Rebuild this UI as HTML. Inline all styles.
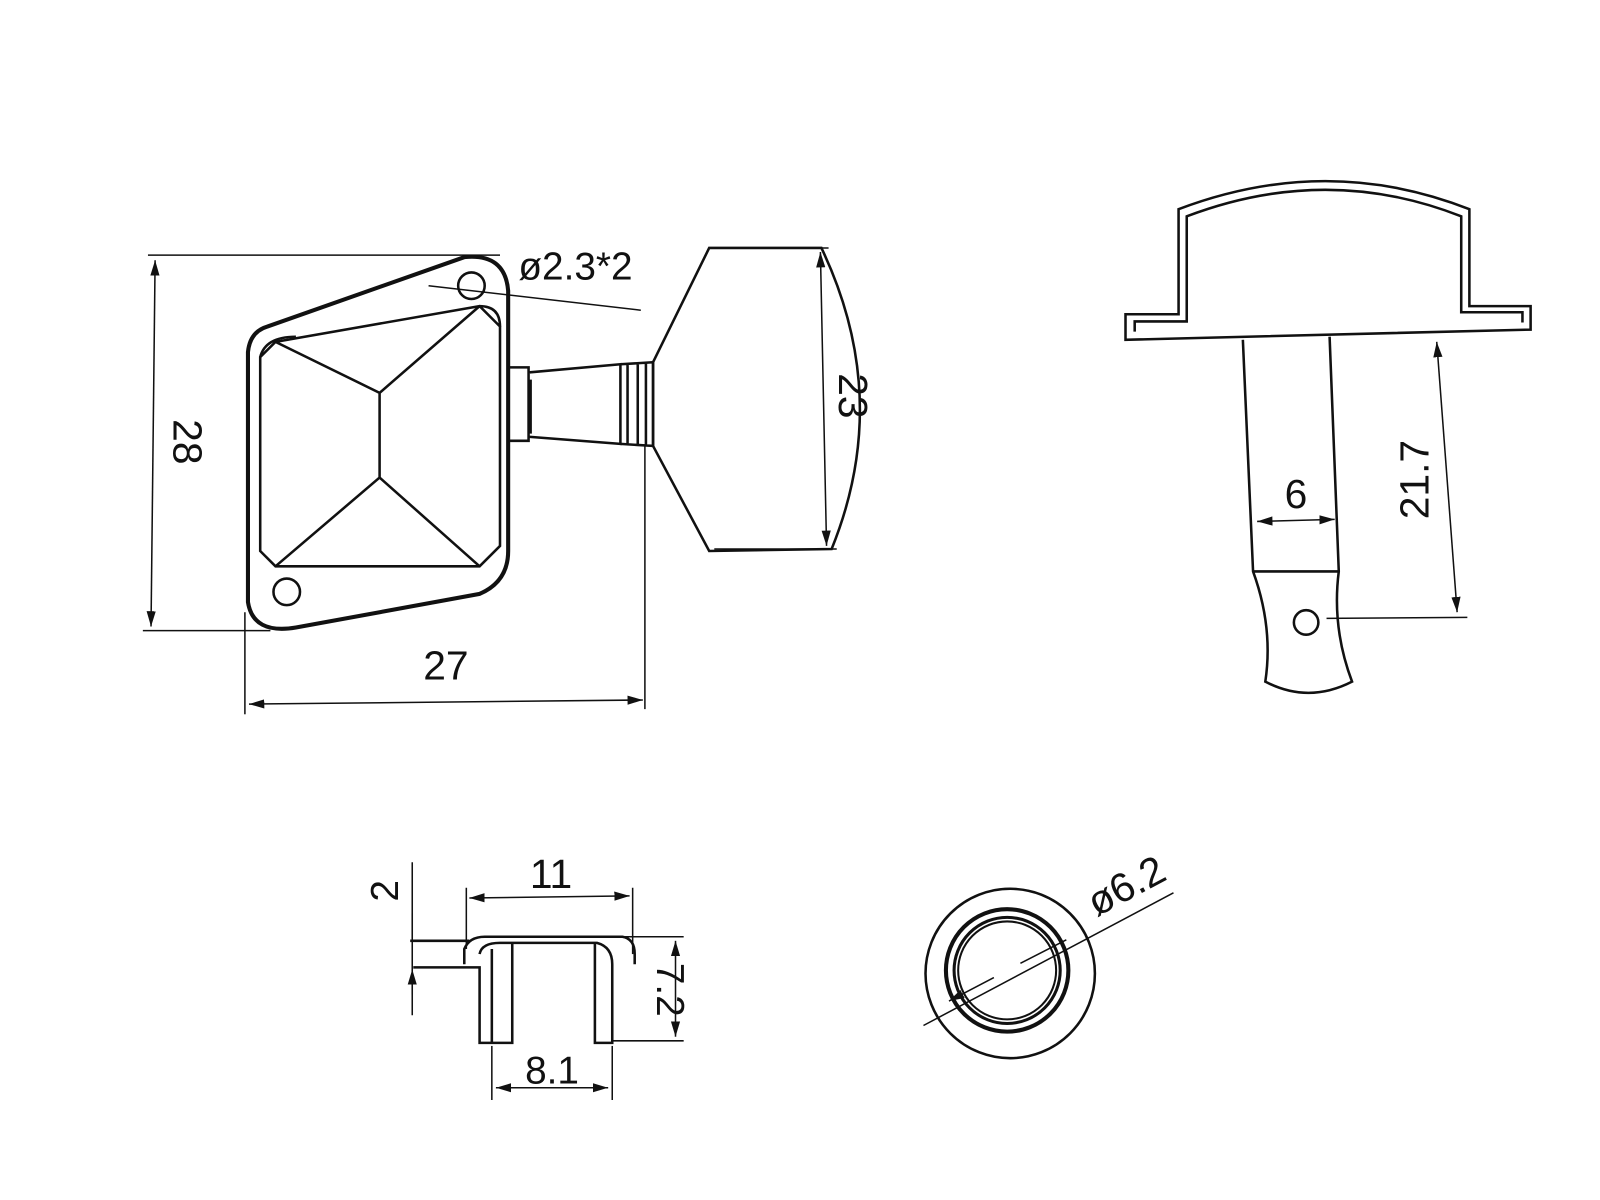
<!DOCTYPE html>
<html><head><meta charset="utf-8"><style>html,body{margin:0;padding:0;background:#fff}svg{display:block}</style></head><body>
<svg width="1600" height="1200" viewBox="0 0 1568 1176" xmlns="http://www.w3.org/2000/svg" font-family="Liberation Sans, sans-serif" fill="none" stroke="#111" stroke-width="2.5">
<defs><marker id="a" viewBox="0 0 10 10" refX="10" refY="5" markerWidth="10" markerHeight="10" orient="auto-start-reverse"><path d="M0,2 L10,5 L0,8" fill="#111" stroke="none"/></marker></defs>
<path d="M262,320 L455,252 Q495,248 498,285 L498,540 Q498,570 470,582 L290,615 Q248,622 243,590 L243,345 Q245,325 262,320 Z" stroke-width="4"/>
<path d="M270,335 L470,300 L490,320 L490,535 L470,555 L270,555 L255,540 L255,350 Z"/>
<path d="M270,335 L372,385 L470,300 M372,385 L372,468 M270,555 L372,468 L470,555"/>
<path d="M255,350 Q260,330 290,330 M470,300 Q490,300 490,320"/>
<circle cx="462" cy="280" r="13"/><circle cx="281" cy="580" r="13"/>
<path d="M498,360 L518,360 L518,432 L498,432 M518,365 L608,357 L608,435 L518,428 M520,372 L520,425"/>
<path d="M608,357 L640,355 L640,437 L608,435 M615,357 L615,435 M625,356 L625,436 M633,356 L633,436"/>
<path d="M640,355 L695,243 L805,243 Q875,390 815,538 L695,540 L640,437 Z"/>
<line x1="145" y1="250" x2="490" y2="250" stroke-width="1.5"/>
<line x1="140" y1="618" x2="265" y2="618" stroke-width="1.5"/>
<line x1="152" y1="255" x2="148" y2="614" stroke-width="1.5" marker-start="url(#a)" marker-end="url(#a)"/>
<text x="170" y="433" font-size="40" fill="#111" stroke="none" transform="rotate(90 170 433)" text-anchor="middle">28</text>
<line x1="240" y1="600" x2="240" y2="700" stroke-width="1.5"/>
<line x1="632" y1="437" x2="632" y2="695" stroke-width="1.5"/>
<line x1="244" y1="690" x2="630" y2="686" stroke-width="1.5" marker-start="url(#a)" marker-end="url(#a)"/>
<text x="437" y="666" font-size="40" fill="#111" stroke="none" text-anchor="middle">27</text>
<line x1="420" y1="280" x2="628" y2="304" stroke-width="1.5"/>
<text x="508" y="274" font-size="38" fill="#111" stroke="none">ø2.3*2</text>
<line x1="700" y1="243" x2="812" y2="243" stroke-width="1.5"/>
<line x1="700" y1="538" x2="820" y2="538" stroke-width="1.5"/>
<line x1="804" y1="247" x2="810" y2="535" stroke-width="1.5" marker-start="url(#a)" marker-end="url(#a)"/>
<text x="822" y="388" font-size="40" fill="#111" stroke="none" transform="rotate(90 822 388)" text-anchor="middle">23</text>
<path d="M1103,333 L1103,308 L1155,308 L1155,205 Q1300,150 1440,205 L1440,300 L1500,300 L1500,323 L1103,333 Z M1112,325 L1112,315 L1163,315 L1163,212 Q1300,160 1432,212 L1432,306 L1492,306 L1492,316"/>
<path d="M1218,333 L1228,560 Q1248,615 1240,668 Q1282,690 1325,668 Q1305,615 1312,560 L1303,330 M1228,560 L1312,560"/>
<circle cx="1280" cy="610" r="12"/>
<line x1="1232" y1="511" x2="1308" y2="509" stroke-width="1.5" marker-start="url(#a)" marker-end="url(#a)"/>
<text x="1270" y="498" font-size="40" fill="#111" stroke="none" text-anchor="middle">6</text>
<line x1="1300" y1="606" x2="1438" y2="605" stroke-width="1.5"/>
<line x1="1408" y1="335" x2="1428" y2="600" stroke-width="1.5" marker-start="url(#a)" marker-end="url(#a)"/>
<text x="1400" y="470" font-size="40" fill="#111" stroke="none" transform="rotate(-90 1400 470)" text-anchor="middle">21.7</text>
<path d="M455,945 L455,930 Q460,918 475,918 L610,918 Q622,920 622,935 L622,945 M405,948 L470,948 L470,1022 L482,1022 L482,930 M470,935 Q472,924 490,924 L585,924 Q600,928 600,945 L600,1022 L583,1022 L583,924 L502,924 L502,1022 L482,1022 M402,922 L460,922"/>
<line x1="457" y1="870" x2="457" y2="930" stroke-width="1.5"/>
<line x1="620" y1="870" x2="620" y2="935" stroke-width="1.5"/>
<line x1="460" y1="880" x2="617" y2="878" stroke-width="1.5" marker-start="url(#a)" marker-end="url(#a)"/>
<text x="540" y="870" font-size="40" fill="#111" stroke="none" text-anchor="middle">11</text>
<line x1="404" y1="845" x2="404" y2="995" stroke-width="1.5"/>
<path d="M404,895 L404,920 M404,975 L404,950" stroke-width="1.5" marker-end="url(#a)"/>
<text x="390" y="873" font-size="38" fill="#111" stroke="none" transform="rotate(-90 390 873)" text-anchor="middle">2</text>
<line x1="600" y1="918" x2="670" y2="918" stroke-width="1.5"/>
<line x1="600" y1="1020" x2="670" y2="1020" stroke-width="1.5"/>
<line x1="662" y1="922" x2="662" y2="1016" stroke-width="1.5" marker-start="url(#a)" marker-end="url(#a)"/>
<text x="644" y="970" font-size="38" fill="#111" stroke="none" transform="rotate(90 644 970)" text-anchor="middle">7.2</text>
<line x1="482" y1="1025" x2="482" y2="1078" stroke-width="1.5"/>
<line x1="600" y1="1025" x2="600" y2="1078" stroke-width="1.5"/>
<line x1="486" y1="1066" x2="596" y2="1066" stroke-width="1.5" marker-start="url(#a)" marker-end="url(#a)"/>
<text x="541" y="1062" font-size="38" fill="#111" stroke="none" text-anchor="middle">8.1</text>
<circle cx="990" cy="954" r="83"/>
<circle cx="987" cy="951" r="60" stroke-width="4"/>
<circle cx="987" cy="951" r="52" stroke-width="3"/>
<circle cx="987" cy="951" r="48" stroke-width="2"/>
<line x1="905" y1="1005" x2="1150" y2="875" stroke-width="1.5"/>
<path d="M1000,944 L1045,921 M974,958 L930,981" stroke-width="1.5" marker-end="url(#a)"/>
<text x="1110" y="880" font-size="40" fill="#111" stroke="none" transform="rotate(-28 1110 880)" text-anchor="middle">ø6.2</text>
</svg>
</body></html>
